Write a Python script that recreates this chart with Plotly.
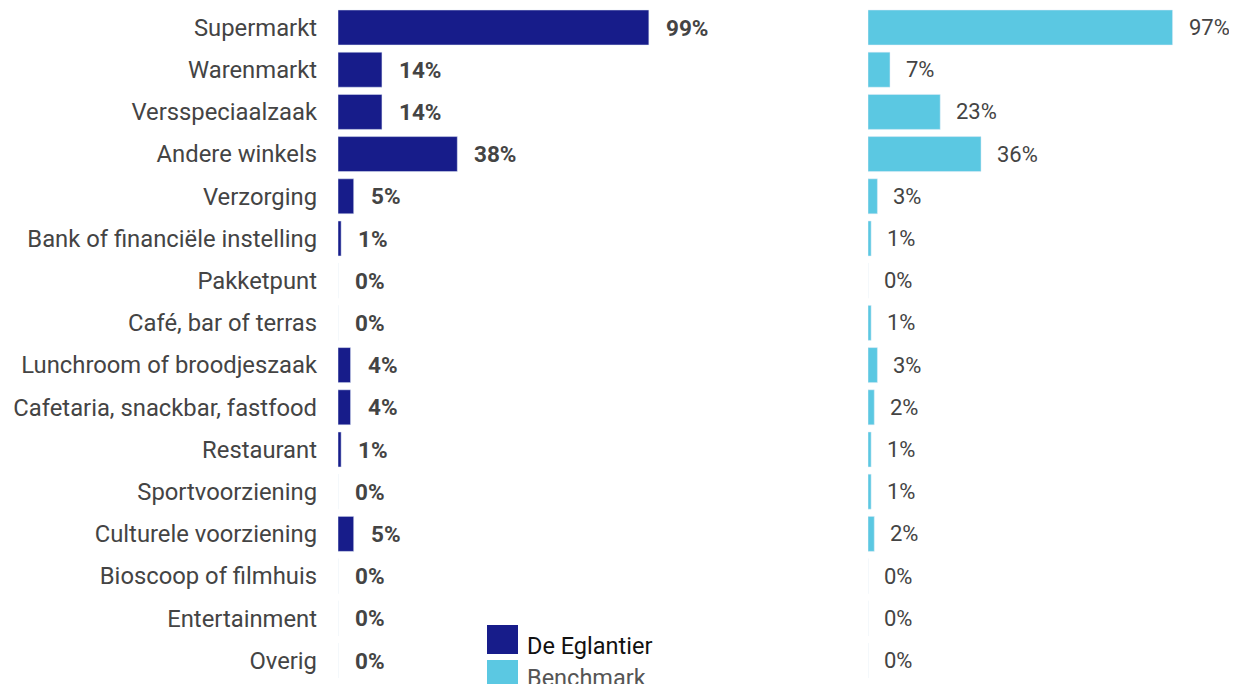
import plotly.graph_objects as go

categories = ["Supermarkt", "Warenmarkt", "Versspeciaalzaak", "Andere winkels", "Verzorging",
              "Bank of financiële instelling", "Pakketpunt", "Café, bar of terras",
              "Lunchroom of broodjeszaak", "Cafetaria, snackbar, fastfood", "Restaurant",
              "Sportvoorziening", "Culturele voorziening", "Bioscoop of filmhuis",
              "Entertainment", "Overig"]
eglantier = [99, 14, 14, 38, 5, 1, 0, 0, 4, 4, 1, 0, 5, 0, 0, 0]
benchmark = [97, 7, 23, 36, 3, 1, 0, 1, 3, 2, 1, 1, 2, 0, 0, 0]
series_names = ["De Eglantier", "Benchmark"]

DARK = "#171c8a"
LIGHT = "#5bc8e2"
TXT = "#444444"
W, H = 1237, 684
OFF = 8  # page body margin
ML, MR, MT, MB = 330, 0, 0, 0
plot_w = W - ML - MR
plot_h = H - MT - MB
px_per_100 = 314.0
left_dom = 0.5
right_start = (860 - ML) / plot_w
row_px = 42.2
first_center = 27.5 - OFF
y_top = -first_center / row_px
y_bot = (plot_h - first_center) / row_px

fig = go.Figure()
fig.add_trace(go.Bar(y=categories, x=eglantier, orientation="h", marker_color=DARK,
                     name=series_names[0], xaxis="x", yaxis="y", showlegend=False))
fig.add_trace(go.Bar(y=categories, x=benchmark, orientation="h", marker_color=LIGHT,
                     name=series_names[1], xaxis="x2", yaxis="y", showlegend=False))

annotations = []
for c, v in zip(categories, eglantier):
    annotations.append(dict(x=v, y=c, xref="x", yref="y", text=f"<b>{v}%</b>", showarrow=False,
                            xanchor="left", xshift=15, font=dict(family="Roboto", size=22.5, color=TXT)))
for c, v in zip(categories, benchmark):
    annotations.append(dict(x=v, y=c, xref="x2", yref="y", text=f"{v}%", showarrow=False,
                            xanchor="left", xshift=14, font=dict(family="Roboto", size=22, color=TXT)))

def px_x(x):
    return (x - OFF - ML) / plot_w

def px_y(y):
    return 1 - (y - OFF - MT) / plot_h

# legend (manual)
shapes = [
    dict(type="rect", xref="paper", yref="paper", x0=px_x(487), x1=px_x(518),
         y0=px_y(654), y1=px_y(625), fillcolor=DARK, line_width=0),
    dict(type="rect", xref="paper", yref="paper", x0=px_x(487), x1=px_x(518),
         y0=px_y(692), y1=px_y(660), fillcolor=LIGHT, line_width=0),
]
annotations.append(dict(x=px_x(525), y=px_y(646), xref="paper", yref="paper",
                        text=series_names[0], showarrow=False, xanchor="left", yanchor="middle",
                        font=dict(family="Roboto", size=23.5, color="#111111")))
annotations.append(dict(x=px_x(525), y=px_y(678), xref="paper", yref="paper",
                        text=series_names[1], showarrow=False, xanchor="left", yanchor="middle",
                        font=dict(family="Roboto", size=23.5, color="#555555")))

fig.update_layout(
    width=W, height=H, margin=dict(l=ML, r=MR, t=MT, b=MB),
    paper_bgcolor="white", plot_bgcolor="white",
    bargap=0.17,
    xaxis=dict(domain=[0, left_dom], range=[0, left_dom * plot_w / px_per_100 * 100], visible=False),
    xaxis2=dict(domain=[right_start, 1], range=[0, (1 - right_start) * plot_w / px_per_100 * 100],
                visible=False),
    yaxis=dict(categoryorder="array", categoryarray=categories, range=[y_bot, y_top],
               showgrid=False, zeroline=False, showline=False, ticks="",
               ticklabelstandoff=20,
               tickfont=dict(family="Roboto", size=23.8, color=TXT)),
    annotations=annotations, shapes=shapes,
)
fig.write_html("out.html")
